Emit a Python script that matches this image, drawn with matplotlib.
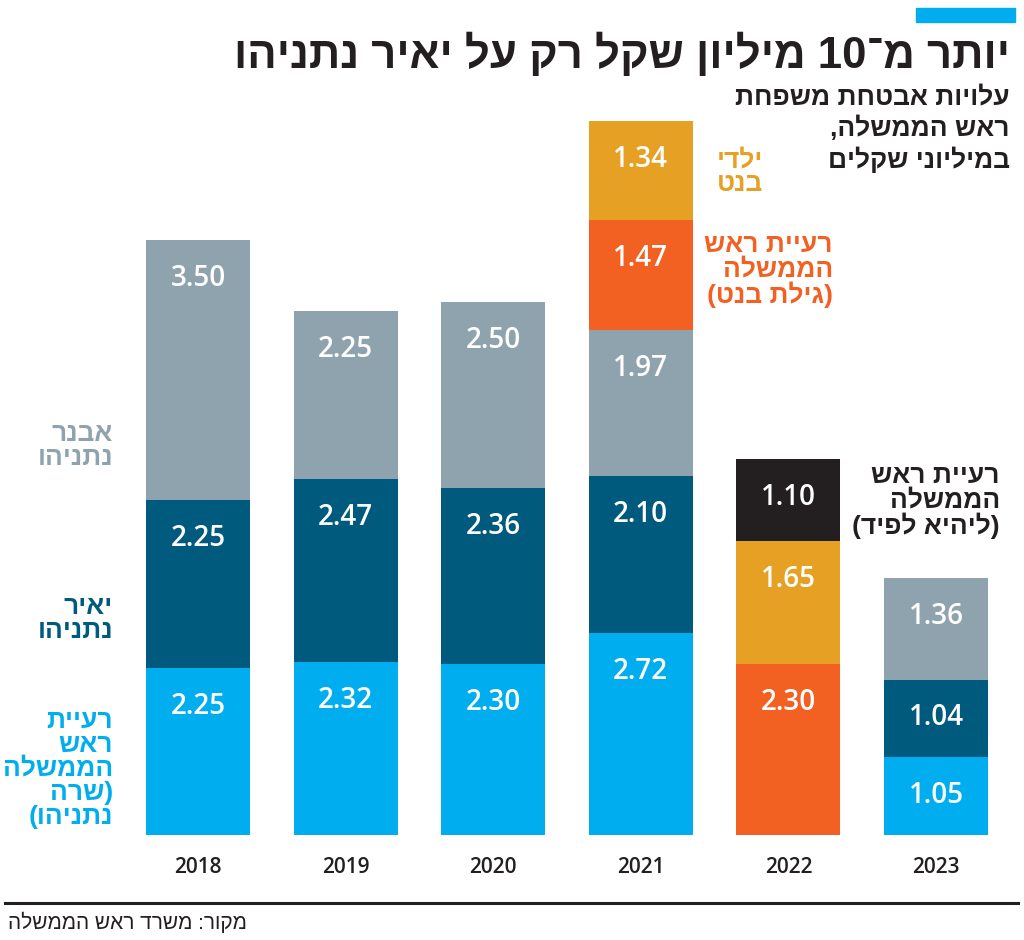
import re
import matplotlib
matplotlib.use("Agg")
import matplotlib.pyplot as plt
from matplotlib.patches import Rectangle
from matplotlib.lines import Line2D

plt.rcParams['font.family'] = ['Liberation Sans', 'DejaVu Sans']

# ---------------- data ----------------
years = ["2018", "2019", "2020", "2021", "2022", "2023"]
sara_residence = [2.25, 2.32, 2.30, 2.72, 0.0, 1.05]   # רעיית ראש הממשלה (שרה נתניהו)
yair = [2.25, 2.47, 2.36, 2.10, 0.0, 1.04]             # יאיר נתניהו
avner = [3.50, 2.25, 2.50, 1.97, 0.0, 1.36]            # אבנר נתניהו
gilat = [0.0, 0.0, 0.0, 1.47, 2.30, 0.0]               # רעיית ראש הממשלה (גילת בנט)
bennett_kids = [0.0, 0.0, 0.0, 1.34, 1.65, 0.0]        # ילדי בנט
lihi = [0.0, 0.0, 0.0, 0.0, 1.10, 0.0]                 # רעיית ראש הממשלה (ליהיא לפיד)

series = [sara_residence, yair, avner, gilat, bennett_kids, lihi]
colors = ["#00AEEF", "#005A7E", "#8FA3AF", "#F26122", "#E6A125", "#231F20"]

title = "יותר מ־10 מיליון שקל רק על יאיר נתניהו"
subtitle = ["עלויות אבטחת משפחת", "ראש הממשלה,", "במיליוני שקלים"]
source = "מקור: משרד ראש הממשלה"


def rtl(s):
    lines = []
    for line in s.split("\n"):
        toks = re.findall(r"[0-9]+(?:\.[0-9]+)?|.", line)
        toks = toks[::-1]
        txt = "".join(toks)
        txt = txt.translate(str.maketrans("()", ")("))
        lines.append(txt)
    return "\n".join(lines)


W, H = 1024, 940
fig = plt.figure(figsize=(W / 100, H / 100), dpi=100)
fig.patch.set_facecolor("white")

# axes geometry: baseline at 835px, 74.4 px per unit; bar centers spaced 147.6 px
ax_left = 124.2 / W
ax_w = 885.6 / W
ax_bottom = (H - 835) / H
ax_h = 744 / H
ax = fig.add_axes([ax_left, ax_bottom, ax_w, ax_h])
ax.set_xlim(-0.5, 5.5)
ax.set_ylim(0, 10)
ax.axis("off")

x = list(range(len(years)))
bw = 0.705
bottoms = [0.0] * len(years)
for vals, col in zip(series, colors):
    ax.bar(x, vals, bottom=bottoms, width=bw, color=col, edgecolor="none", linewidth=0)
    for i, v in enumerate(vals):
        if v > 0:
            top = bottoms[i] + v
            ax.text(i, top - 0.47, f"{v:.2f}", ha="center", va="center_baseline",
                    color="white", fontsize=20, fontweight="semibold",
                    family=["Open Sans", "DejaVu Sans"])
    bottoms = [b + v for b, v in zip(bottoms, vals)]

for i, yr in enumerate(years):
    ax.text(i, -0.44, yr, ha="center", va="center", fontsize=15, color="#231F20",
            family=["Open Sans", "DejaVu Sans"], fontweight="semibold", clip_on=False)

# series labels
lab_kw = dict(fontsize=19, fontweight="bold", ha="right", va="center",
              multialignment="right", linespacing=1.0, clip_on=False)
ax.text(-0.576, 5.23, rtl("אבנר\nנתניהו"), color="#8FA3AF", **lab_kw)
ax.text(-0.576, 2.90, rtl("יאיר\nנתניהו"), color="#005A7E", **lab_kw)
ax.text(-0.576, 0.89, rtl("רעיית\nראש\nהממשלה\n(שרה\nנתניהו)"), color="#00AEEF", **lab_kw)
ax.text(3.828, 8.91, rtl("ילדי\nבנט"), color="#E6A125", **lab_kw)
ax.text(4.302, 7.59, rtl("רעיית ראש\nהממשלה\n(גילת בנט)"), color="#F26122", **lab_kw)
ax.text(5.433, 4.48, rtl("רעיית ראש\nהממשלה\n(ליהיא לפיד)"), color="#231F20", **lab_kw)

# title block
fig.text(1010 / W, 1 - 55 / H, rtl(title), ha="right", va="center", fontsize=31.5,
         fontweight="bold", color="#231F20")
for yy, line in zip([97, 128, 160], subtitle):
    fig.text(1010 / W, 1 - yy / H, rtl(line), ha="right", va="center", fontsize=19,
             fontweight="bold", color="#231F20")

fig.patches.append(Rectangle((916 / W, 1 - 22 / H), 99 / W, 14 / H,
                             transform=fig.transFigure, color="#00AEEF"))
fig.lines.append(Line2D([5 / W, 1018 / W], [1 - 903 / H, 1 - 903 / H],
                        transform=fig.transFigure, color="#231F20", linewidth=2.2))
fig.text(8 / W, 1 - 922 / H, rtl(source), ha="left", va="center", fontsize=15,
         color="#231F20")

fig.savefig("out.png", dpi=100)
